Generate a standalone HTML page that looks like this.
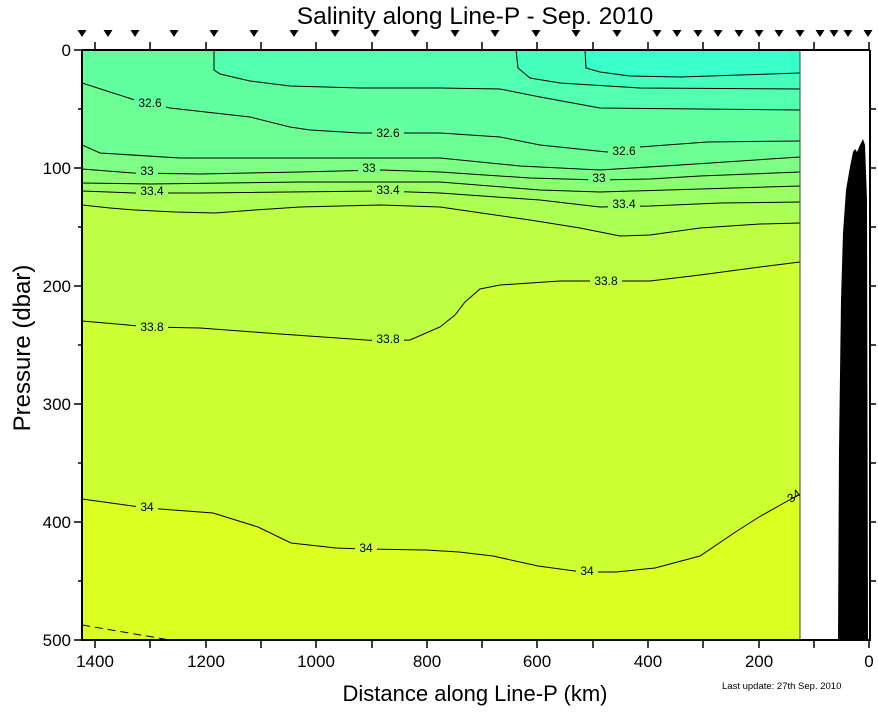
<!DOCTYPE html>
<html><head><meta charset="utf-8"><style>
body{margin:0;background:#fff;}
svg text{font-family:"Liberation Sans",Arial,sans-serif;}
</style></head><body>
<svg width="878" height="708" viewBox="0 0 878 708" xmlns="http://www.w3.org/2000/svg">
<defs><clipPath id="c"><rect x="82" y="50" width="718" height="590"/></clipPath></defs>
<g clip-path="url(#c)">
<rect x="82" y="50" width="718" height="590" fill="#62ffa0"/>
<polygon fill="#52ffb0" points="214,50 214,70 220,74 250,81 290,86 360,88 440,88 500,89 540,97 600,108 800,110 800,50"/>
<polygon fill="#45ffbc" points="516,50 518,68 530,78 560,83 640,88 800,89 800,50"/>
<polygon fill="#38ffca" points="585,50 586,68 600,72 630,76 680,77 800,73 800,50"/>
<polygon fill="#6cff94" points="82,83 110,92 135,100 170,108 250,117 290,127 310,130 360,133 440,133 500,137 540,145 607,152 640,147 707,142 800,141 800,640 82,640"/>
<polygon fill="#7cff84" points="82,145 100,153 180,158 280,158 440,158 520,166 600,170 680,165 800,157 800,640 82,640"/>
<polygon fill="#8cff74" points="82,169 133,173 200,174 300,172 380,170 440,172 530,178 600,180 650,179 700,176 800,172 800,640 82,640"/>
<polygon fill="#9cff64" points="82,183 150,184 300,182 440,182 540,190 600,192 700,189 800,186 800,640 82,640"/>
<polygon fill="#acff54" points="82,191 135,193 200,193 380,191 440,193 540,200 600,207 650,206 720,203 800,202 800,640 82,640"/>
<polygon fill="#bcff44" points="82,205 110,208 135,210 175,212 215,213 255,210 300,207 380,205 440,207 530,220 580,228 620,236 650,235 700,228 760,224 800,223 800,640 82,640"/>
<polygon fill="#cdff33" points="82,321 150,327 200,328 280,334 380,341 410,340 440,327 455,315 465,302 480,289 500,285 560,281 620,281 650,281 700,275 760,267 800,262 800,640 82,640"/>
<polygon fill="#dcff22" points="82,499 147,508 213,513 258,527 291,543 336,548 364,549 426,550 459,552 493,556 538,566 582,572 616,572 655,568 700,556 734,533 759,517 784,503 800,494 800,640 82,640"/>
<g fill="none" stroke="#000" stroke-width="1">
<polyline points="214,50 214,70 220,74 250,81 290,86 360,88 440,88 500,89 540,97 600,108 800,110"/>
<polyline points="516,50 518,68 530,78 560,83 640,88 800,89"/>
<polyline points="585,50 586,68 600,72 630,76 680,77 800,73"/>
<polyline points="82,83 110,92 135,100 170,108 250,117 290,127 310,130 360,133 440,133 500,137 540,145 607,152 640,147 707,142 800,141"/>
<polyline points="82,145 100,153 180,158 280,158 440,158 520,166 600,170 680,165 800,157"/>
<polyline points="82,169 133,173 200,174 300,172 380,170 440,172 530,178 600,180 650,179 700,176 800,172"/>
<polyline points="82,183 150,184 300,182 440,182 540,190 600,192 700,189 800,186"/>
<polyline points="82,191 135,193 200,193 380,191 440,193 540,200 600,207 650,206 720,203 800,202"/>
<polyline points="82,205 110,208 135,210 175,212 215,213 255,210 300,207 380,205 440,207 530,220 580,228 620,236 650,235 700,228 760,224 800,223"/>
<polyline points="82,321 150,327 200,328 280,334 380,341 410,340 440,327 455,315 465,302 480,289 500,285 560,281 620,281 650,281 700,275 760,267 800,262"/>
<polyline points="82,499 147,508 213,513 258,527 291,543 336,548 364,549 426,550 459,552 493,556 538,566 582,572 616,572 655,568 700,556 734,533 759,517 784,503 800,494"/>
<polyline points="82,625 170,640" stroke-dasharray="8,5"/>
</g>
<g font-size="12" text-anchor="middle">
<g stroke="none">
<rect x="134" y="96" width="32" height="12" fill="#62ffa0"/><rect x="372" y="127" width="32" height="12" fill="#6cff94"/>
<rect x="608" y="144" width="32" height="12" fill="#6cff94"/>
<rect x="136" y="165" width="22" height="12" fill="#7cff84"/><rect x="358" y="162" width="22" height="12" fill="#7cff84"/><rect x="588" y="172" width="22" height="12" fill="#7cff84"/>
<rect x="136" y="185" width="32" height="12" fill="#9cff64"/><rect x="372" y="184" width="32" height="12" fill="#9cff64"/><rect x="608" y="198" width="32" height="12" fill="#9cff64"/>
<rect x="136" y="320" width="32" height="12" fill="#bcff44"/><rect x="372" y="332" width="32" height="12" fill="#bcff44"/><rect x="590" y="274" width="32" height="12" fill="#bcff44"/>
<rect x="136" y="500" width="22" height="12" fill="#cdff33"/><rect x="355" y="541" width="22" height="12" fill="#cdff33"/><rect x="576" y="564" width="22" height="12" fill="#cdff33"/>
</g>
<text x="150" y="107">32.6</text><text x="388" y="137">32.6</text><text x="624" y="155">32.6</text>
<text x="147" y="175">33</text><text x="369" y="172">33</text><text x="599" y="182">33</text>
<text x="152" y="195">33.4</text><text x="388" y="194">33.4</text><text x="624" y="208">33.4</text>
<text x="152" y="331">33.8</text><text x="388" y="343">33.8</text><text x="606" y="285">33.8</text>
<text x="147" y="511">34</text><text x="366" y="552">34</text><text x="587" y="575">34</text>
<text x="794" y="500" transform="rotate(-35 794 496)">34</text>
</g>
</g>
<line x1="800" y1="50" x2="800" y2="640" stroke="#444" stroke-width="1"/>
<path d="M838,640 L839,450 L841,300 L843,233 L846,190 L850,167 L853,152 L855,149 L857,152 L860,145 L863,139 L865,145 L867,200 L868,640 Z" fill="#000"/>
<g stroke="#000" stroke-width="2" fill="none">
<polyline points="82,50 870,50"/>
<polyline points="82,50 82,640 870,640 870,50"/>
</g>
<g stroke="#000" stroke-width="1.5">
<line x1="74" y1="50" x2="82" y2="50"/><line x1="74" y1="168" x2="82" y2="168"/><line x1="74" y1="286" x2="82" y2="286"/><line x1="74" y1="404" x2="82" y2="404"/><line x1="74" y1="522" x2="82" y2="522"/><line x1="74" y1="640" x2="82" y2="640"/>
<line x1="78" y1="109" x2="82" y2="109"/><line x1="78" y1="227" x2="82" y2="227"/><line x1="78" y1="345" x2="82" y2="345"/><line x1="78" y1="463" x2="82" y2="463"/><line x1="78" y1="581" x2="82" y2="581"/>
<line x1="870" y1="109" x2="876" y2="109"/><line x1="870" y1="168" x2="876" y2="168"/><line x1="870" y1="227" x2="876" y2="227"/><line x1="870" y1="286" x2="876" y2="286"/><line x1="870" y1="345" x2="876" y2="345"/><line x1="870" y1="404" x2="876" y2="404"/><line x1="870" y1="463" x2="876" y2="463"/><line x1="870" y1="522" x2="876" y2="522"/><line x1="870" y1="581" x2="876" y2="581"/>
</g>
<g stroke="#000" stroke-width="1.5">
<line x1="95" y1="42" x2="95" y2="50"/><line x1="150" y1="42" x2="150" y2="50"/><line x1="206" y1="42" x2="206" y2="50"/><line x1="261" y1="42" x2="261" y2="50"/><line x1="316" y1="42" x2="316" y2="50"/><line x1="372" y1="42" x2="372" y2="50"/><line x1="427" y1="42" x2="427" y2="50"/><line x1="482" y1="42" x2="482" y2="50"/><line x1="537" y1="42" x2="537" y2="50"/><line x1="593" y1="42" x2="593" y2="50"/><line x1="648" y1="42" x2="648" y2="50"/><line x1="703" y1="42" x2="703" y2="50"/><line x1="759" y1="42" x2="759" y2="50"/><line x1="814" y1="42" x2="814" y2="50"/><line x1="869" y1="42" x2="869" y2="50"/>
<line x1="95" y1="640" x2="95" y2="648"/><line x1="150" y1="640" x2="150" y2="648"/><line x1="206" y1="640" x2="206" y2="648"/><line x1="261" y1="640" x2="261" y2="648"/><line x1="316" y1="640" x2="316" y2="648"/><line x1="372" y1="640" x2="372" y2="648"/><line x1="427" y1="640" x2="427" y2="648"/><line x1="482" y1="640" x2="482" y2="648"/><line x1="537" y1="640" x2="537" y2="648"/><line x1="593" y1="640" x2="593" y2="648"/><line x1="648" y1="640" x2="648" y2="648"/><line x1="703" y1="640" x2="703" y2="648"/><line x1="759" y1="640" x2="759" y2="648"/><line x1="814" y1="640" x2="814" y2="648"/><line x1="869" y1="640" x2="869" y2="648"/>
</g>
<g fill="#000">
<path id="tri" d="M-4.5,0 L4.5,0 L0,7 Z" transform="translate(82,30)"/>
<use href="#tri" x="26"/><use href="#tri" x="53"/><use href="#tri" x="92"/><use href="#tri" x="132"/><use href="#tri" x="172"/><use href="#tri" x="212"/><use href="#tri" x="253"/><use href="#tri" x="293"/><use href="#tri" x="333"/><use href="#tri" x="373"/><use href="#tri" x="413"/><use href="#tri" x="454"/><use href="#tri" x="494"/><use href="#tri" x="535"/><use href="#tri" x="575"/><use href="#tri" x="595"/><use href="#tri" x="616"/><use href="#tri" x="636"/><use href="#tri" x="657"/><use href="#tri" x="677"/><use href="#tri" x="697"/><use href="#tri" x="718"/><use href="#tri" x="738"/><use href="#tri" x="752"/><use href="#tri" x="766"/><use href="#tri" x="786"/>
</g>
<g font-size="17" text-anchor="end">
<text x="71" y="56">0</text><text x="71" y="174">100</text><text x="71" y="292">200</text><text x="71" y="410">300</text><text x="71" y="528">400</text><text x="71" y="646">500</text>
</g>
<g font-size="17" text-anchor="middle">
<text x="95" y="667">1400</text><text x="206" y="667">1200</text><text x="316" y="667">1000</text><text x="427" y="667">800</text><text x="537" y="667">600</text><text x="648" y="667">400</text><text x="759" y="667">200</text><text x="869" y="667">0</text>
</g>
<text x="475" y="24" font-size="24.5" text-anchor="middle">Salinity along Line-P - Sep. 2010</text>
<text x="475" y="701" font-size="22" text-anchor="middle">Distance along Line-P (km)</text>
<text x="22" y="348" font-size="24" text-anchor="middle" transform="rotate(-90 22 348)" dy="8">Pressure (dbar)</text>
<text x="722" y="689" font-size="9.5">Last update: 27th Sep. 2010</text>
</svg>
</body></html>
